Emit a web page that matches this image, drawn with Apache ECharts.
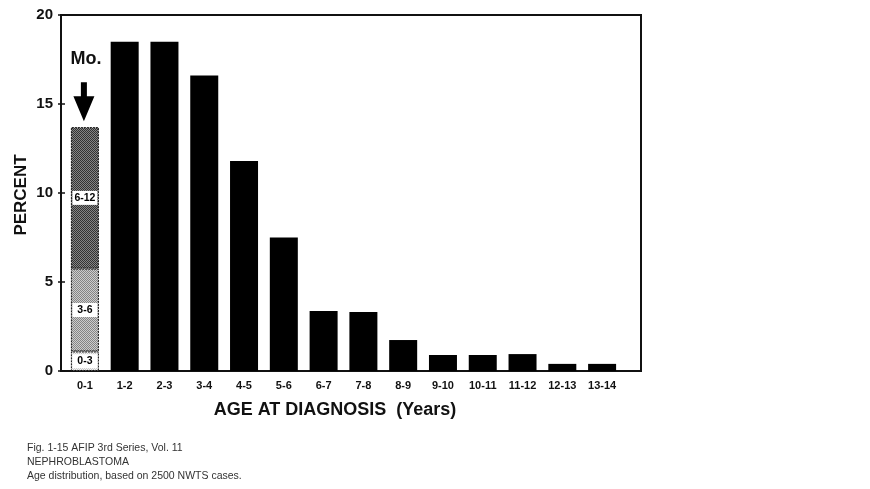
<!DOCTYPE html>
<html>
<head>
<meta charset="utf-8">
<script src="https://cdn.jsdelivr.net/npm/echarts@6/dist/echarts.min.js"></script>
<style>
html,body{margin:0;padding:0;background:#fff;}
#c{width:870px;height:489px;}
</style>
</head>
<body>
<div id="c"></div>
<script>
// ---- data ----
const categories = ['0-1','1-2','2-3','3-4','4-5','5-6','6-7','7-8','8-9','9-10','10-11','11-12','12-13','13-14'];
const percentByYear = ['-', 18.5, 18.5, 16.6, 11.8, 7.5, 3.37, 3.31, 1.74, 0.9, 0.9, 0.95, 0.4, 0.4];
const infantGroups = ['0-3', '3-6', '6-12'];
const infantPercents = [1.1, 4.65, 7.95];
const yMin = 0, yMax = 20, yStep = 5;
const yTitle = 'PERCENT';
const xTitle = 'AGE AT DIAGNOSIS  (Years)';
const annotation = 'Mo.';
const captionLines = [
  'Fig. 1-15 AFIP 3rd Series, Vol. 11',
  'NEPHROBLASTOMA',
  'Age distribution, based on 2500 NWTS cases.'
];

// ---- patterns ----
function pattern(c1, c2) {
  const cv = document.createElement('canvas');
  cv.width = 2; cv.height = 2;
  const g = cv.getContext('2d');
  g.fillStyle = c2; g.fillRect(0, 0, 2, 2);
  g.fillStyle = c1; g.fillRect(0, 0, 1, 1); g.fillRect(1, 1, 1, 1);
  return { image: cv, repeat: 'repeat' };
}
const fills = [pattern('#c4c4c4', '#f2f2f2'), pattern('#858585', '#cdcdcd'), pattern('#333333', '#858585')];

const FONT = 'Liberation Sans, Arial, sans-serif';
const chart = echarts.init(document.getElementById('c'), null, { renderer: 'canvas' });

function firstOnly(v) {
  return categories.map((_, i) => (i === 0 ? v : '-'));
}

const series = infantGroups.map((name, k) => ({
  name: name,
  type: 'bar',
  xAxisIndex: 1, yAxisIndex: 1,
  stack: 'age',
  barWidth: 28,
  data: firstOnly(infantPercents[k]),
  itemStyle: { color: fills[k], borderColor: '#111', borderWidth: 1, borderType: [2, 1] },
  label: {
    show: true, position: 'inside', formatter: name,
    backgroundColor: '#fff', color: '#000', fontFamily: FONT,
    fontWeight: 'bold', fontSize: 10.5, padding: [2, 0, 1, 0], width: 25, align: 'center'
  },
  silent: true
}));
series.push({
  name: 'years',
  type: 'bar',
  xAxisIndex: 1, yAxisIndex: 1,
  stack: 'age',
  barWidth: 28,
  data: percentByYear,
  itemStyle: { color: '#000' },
  silent: true
});

chart.setOption({
  animation: false,
  backgroundColor: '#fff',
  grid: [
    { left: 61, top: 15, width: 580, height: 356, show: true, borderColor: '#111', borderWidth: 2, backgroundColor: 'transparent' },
    { left: 65, top: 15, width: 557, height: 356 }
  ],
  xAxis: [
    { gridIndex: 0, type: 'value', show: false, min: 0, max: 1 },
    {
      gridIndex: 1, type: 'category', data: categories,
      axisLine: { show: false }, axisTick: { show: false },
      axisLabel: { color: '#111', fontFamily: FONT, fontWeight: 'bold', fontSize: 11, margin: 9, interval: 0 },
      name: xTitle, nameLocation: 'middle', nameGap: 30,
      nameTextStyle: { color: '#111', fontFamily: FONT, fontWeight: 'bold', fontSize: 18, padding: [0, 17, 0, 0] }
    }
  ],
  yAxis: [
    {
      gridIndex: 0, type: 'value', min: yMin, max: yMax, interval: yStep,
      axisLine: { show: false }, splitLine: { show: false },
      axisTick: { show: true, length: 3, lineStyle: { color: '#111', width: 1.5 } },
      axisLabel: { color: '#111', fontFamily: FONT, fontWeight: 'bold', fontSize: 15, margin: 8 }
    },
    { gridIndex: 1, type: 'value', min: yMin, max: yMax, interval: yStep, show: false },
    {
      gridIndex: 0, type: 'value', min: yMin, max: yMax, interval: yStep, position: 'left',
      axisLine: { show: false }, splitLine: { show: false }, axisLabel: { show: false },
      axisTick: { show: true, inside: true, length: 4, lineStyle: { color: '#111', width: 1.5 } }
    }
  ],
  series: series
});

// annotation anchored on the 0-1 bar top
const infantTotal = infantPercents.reduce((a, b) => a + b, 0);
const p = chart.convertToPixel({ xAxisIndex: 1, yAxisIndex: 1 }, [categories[0], infantTotal]);
const cx = p[0] - 1, tip = p[1] - 6;
const mid = chart.convertToPixel({ yAxisIndex: 0 }, (yMin + yMax) / 2);
chart.setOption({
  graphic: [
    { type: 'polygon', silent: true,
      shape: { points: [[cx - 3, tip - 39], [cx + 3, tip - 39], [cx + 3, tip - 25], [cx + 10.5, tip - 25], [cx, tip], [cx - 10.5, tip - 25], [cx - 3, tip - 25]] },
      style: { fill: '#000' } },
    { type: 'text', silent: true, x: cx + 2, y: tip - 53,
      style: { text: annotation, fill: '#111', font: 'bold 18px ' + FONT, textAlign: 'center', textVerticalAlign: 'bottom' } },
    { type: 'text', silent: true, x: 21, y: mid + 2, rotation: Math.PI / 2,
      style: { text: yTitle, fill: '#111', font: 'bold 17px ' + FONT, textAlign: 'center', textVerticalAlign: 'middle' } },
    { type: 'text', silent: true, left: 27, top: 441,
      style: { text: captionLines.join('\n'), fill: '#333', font: '10.5px ' + FONT, lineHeight: 14 } }
  ]
});
</script>
</body>
</html>
